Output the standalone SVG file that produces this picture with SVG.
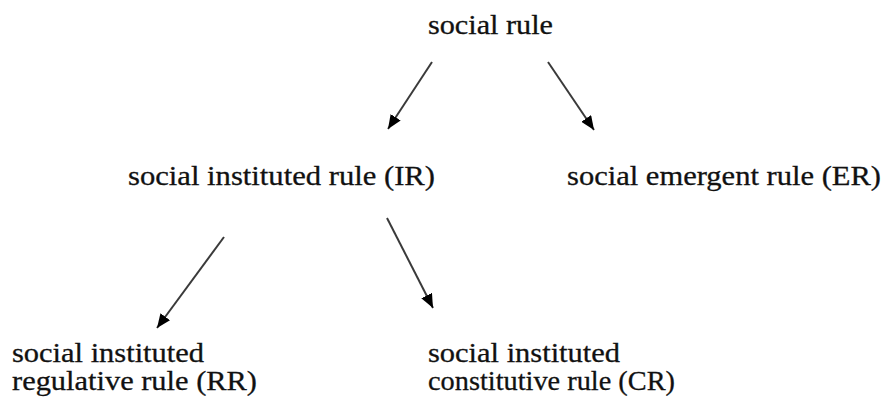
<svg xmlns="http://www.w3.org/2000/svg" width="883" height="412" viewBox="0 0 883 412">
<style>
text{font-family:"Liberation Serif","Times New Roman",serif;font-size:28px;fill:#111;stroke:#111;stroke-width:0.3}
.c line{stroke:#3a3a3a;stroke-width:2}
</style>
<defs>
<marker id="ah" viewBox="0 0 14 12" refX="14" refY="6" markerWidth="14" markerHeight="12" markerUnits="userSpaceOnUse" orient="auto">
<path d="M0,0 L14,6 L0,12 Z" fill="#000"/>
</marker>
</defs>
<rect width="883" height="412" fill="#fff"/>
<g id="n-social-rule"><text x="428" y="34" textLength="125" lengthAdjust="spacingAndGlyphs">social rule</text></g>
<g id="n-ir"><text x="128" y="185" textLength="307" lengthAdjust="spacingAndGlyphs">social instituted rule (IR)</text></g>
<g id="n-er"><text x="567" y="185" textLength="314" lengthAdjust="spacingAndGlyphs">social emergent rule (ER)</text></g>
<g id="n-rr"><text x="12" y="362" textLength="192" lengthAdjust="spacingAndGlyphs">social instituted</text><text x="12" y="390" textLength="245" lengthAdjust="spacingAndGlyphs">regulative rule (RR)</text></g>
<g id="n-cr"><text x="428" y="362" textLength="192" lengthAdjust="spacingAndGlyphs">social instituted</text><text x="428" y="390" textLength="247" lengthAdjust="spacingAndGlyphs">constitutive rule (CR)</text></g>
<g id="connectors" class="c">
<line x1="432" y1="62" x2="388" y2="129" marker-end="url(#ah)"/>
<line x1="548" y1="62" x2="594" y2="130" marker-end="url(#ah)"/>
<line x1="224" y1="237" x2="157" y2="328" marker-end="url(#ah)"/>
<line x1="387" y1="218" x2="433" y2="308" marker-end="url(#ah)"/>
</g>
</svg>
